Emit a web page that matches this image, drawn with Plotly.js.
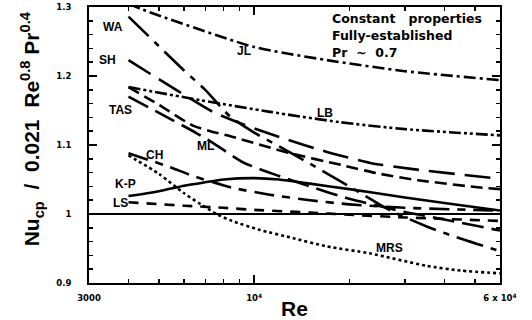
<!DOCTYPE html>
<html>
<head>
<meta charset="utf-8">
<script src="https://cdn.plot.ly/plotly-3.0.1.min.js"></script>
<style>html,body{margin:0;padding:0;background:#fff;}#chart{width:532px;height:320px;}</style>
</head>
<body>
<div id="chart"></div>
<script>
// ---- data (Re, Nu ratio) ----
const reRef = [3000, 60000];
const yRef = [1.0, 1.0];

const reJL = [4000, 4450, 10000, 17000, 30000, 60000];
const yJL = [1.305, 1.296, 1.242, 1.223, 1.207, 1.194];

const reLB = [4000, 6740, 11240, 18700, 30000, 60000];
const yLB = [1.184, 1.165, 1.148, 1.133, 1.123, 1.114];

const reWA = [4000, 5000, 6000, 7000, 8400, 10000, 12000, 15000, 20000, 27000, 36000, 46000, 60000];
const yWA = [1.286, 1.243, 1.208, 1.180, 1.141, 1.118, 1.098, 1.073, 1.040, 1.005, 0.980, 0.963, 0.946];

const reSH = [4000, 4850, 7400, 9340, 12300, 17000, 23300, 31800, 60000];
const ySH = [1.223, 1.199, 1.148, 1.129, 1.110, 1.090, 1.074, 1.065, 1.051];

const reTAS = [4000, 5000, 6400, 7400, 8500, 13000, 18900, 24500, 33000, 52800, 60000];
const yTAS = [1.184, 1.158, 1.128, 1.119, 1.112, 1.088, 1.071, 1.059, 1.049, 1.038, 1.036];

const reML = [4000, 4930, 6580, 7400, 9200, 12000, 15000, 20000, 30000, 40000, 60000];
const yML = [1.170, 1.148, 1.117, 1.103, 1.075, 1.055, 1.040, 1.022, 1.003, 0.992, 0.976];

const reCH = [4000, 5410, 6420, 8530, 11200, 15000, 20000, 30000, 60000];
const yCH = [1.088, 1.068, 1.055, 1.038, 1.028, 1.020, 1.014, 1.009, 1.005];

const reKP = [4000, 5000, 6000, 7000, 8000, 10000, 12000, 15000, 20000, 30000, 40000, 60000];
const yKP = [1.026, 1.033, 1.041, 1.046, 1.050, 1.052, 1.050, 1.044, 1.036, 1.024, 1.016, 1.005];

const reLS = [4000, 6000, 8000, 10000, 15000, 20000, 30000, 60000];
const yLS = [1.017, 1.012, 1.009, 1.006, 1.002, 0.999, 0.995, 0.990];

const reMRS = [4000, 5000, 6000, 7000, 7600, 8500, 10400, 13300, 17000, 23200, 35000, 45000, 60000];
const yMRS = [1.085, 1.058, 1.030, 1.010, 1.000, 0.990, 0.977, 0.965, 0.953, 0.943, 0.925, 0.918, 0.914];

const xTickVals = [3000, 10000, 60000];
const xTickText = ["3000", "10<sup>4</sup>", "6 x 10<sup>4</sup>"];
const xMinorVals = [4000, 5000, 6000, 7000, 8000, 9000, 20000, 30000, 40000, 50000];
const yTickVals = [0.9, 1.0, 1.1, 1.2, 1.3];
const yTickText = ["0.9", "1", "1.1", "1.2", "1.3"];

const curveLabels = ["WA", "SH", "TAS", "JL", "LB", "ML", "CH", "K-P", "LS", "MRS"];
const boxLines = ["Constant   properties", "Fully-established", "Pr  ~  0.7"];
const xTitle = "Re";
const yTitle = "Nu<sub>cp</sub>  /  0.021  Re<sup>0.8</sup> Pr<sup>0.4</sup>";

// ---- styling ----
const W = 2.6;
function tr(x, y, dash, width) {
  return {x: x, y: y, type: 'scatter', mode: 'lines',
    line: {color: '#000', width: width || W, dash: dash, shape: 'spline', smoothing: 0.6},
    hoverinfo: 'skip', showlegend: false};
}
const traces = [
  tr(reRef, yRef, 'solid', 2.2),
  tr(reJL, yJL, '12px,4px,3px,4px'),
  tr(reLB, yLB, '12px,3px,3px,3px,3px,3px'),
  tr(reWA, yWA, '28px,8px,6px,8px'),
  tr(reSH, ySH, '26px,10px'),
  tr(reTAS, yTAS, '12px,6px'),
  tr(reML, yML, '22px,8px'),
  tr(reCH, yCH, '20px,8px,8px,8px'),
  tr(reKP, yKP, 'solid'),
  tr(reLS, yLS, '10px,8px'),
  tr(reMRS, yMRS, '3px,3px')
];

const labelPos = [
  [3570, 1.271], [3430, 1.223], [3770, 1.151], [9300, 1.236], [16800, 1.146],
  [6990, 1.099], [4850, 1.086], [3900, 1.043], [3770, 1.016], [26900, 0.951]
];
const sans = 'Liberation Sans, Arial, sans-serif';
const wide = 'DejaVu Sans, Verdana, sans-serif';
function font(fam, size) { return {family: fam, size: size, color: '#000', weight: 'bold'}; }
const annotations = curveLabels.map((t, i) => ({
  x: Math.log10(labelPos[i][0]), y: labelPos[i][1], xref: 'x', yref: 'y',
  text: t, showarrow: false, font: font(sans, 12), xanchor: 'center', yanchor: 'middle'
}));
const boxY = [0.958, 0.897, 0.836];
boxLines.forEach((t, i) => annotations.push({
  x: 0.586, y: boxY[i], xref: 'paper', yref: 'paper', text: t, showarrow: false,
  xanchor: 'left', yanchor: 'middle', font: font(wide, 12.5)
}));
annotations.push({
  x: -0.139, y: 0.56, xref: 'paper', yref: 'paper', text: yTitle, showarrow: false,
  textangle: -90, xanchor: 'center', yanchor: 'middle', font: font(sans, 21)
});

const layout = {
  width: 532, height: 320,
  margin: {l: 89, r: 32, t: 7, b: 37, pad: 0},
  paper_bgcolor: '#fff', plot_bgcolor: '#fff',
  showlegend: false,
  xaxis: {
    type: 'log', range: [Math.log10(3000), Math.log10(60000)],
    tickmode: 'array', tickvals: xTickVals, ticktext: xTickText,
    ticks: 'inside', ticklen: 8, tickwidth: 1.5, tickcolor: '#000',
    showline: true, linecolor: '#000', linewidth: 2, mirror: 'allticks',
    showgrid: false, zeroline: false, tickfont: font(wide, 8.5), ticklabelstandoff: 6,
    minor: {tickmode: 'array', tickvals: xMinorVals, ticks: 'inside', ticklen: 4, tickwidth: 1.5, tickcolor: '#000', showgrid: false},
    title: {text: xTitle, font: font(sans, 21), standoff: 1}
  },
  yaxis: {
    range: [0.9, 1.3],
    tickmode: 'array', tickvals: yTickVals, ticktext: yTickText,
    ticks: 'inside', ticklen: 8, tickwidth: 1.5, tickcolor: '#000',
    showline: true, linecolor: '#000', linewidth: 2, mirror: 'allticks',
    showgrid: false, zeroline: false, tickfont: font(wide, 8.5), ticklabelstandoff: 14,
    minor: {dtick: 0.02, ticks: 'inside', ticklen: 4, tickwidth: 1.5, tickcolor: '#000', showgrid: false}
  },
  annotations: annotations
};

Plotly.newPlot('chart', traces, layout, {staticPlot: true, displayModeBar: false});
</script>
</body>
</html>
